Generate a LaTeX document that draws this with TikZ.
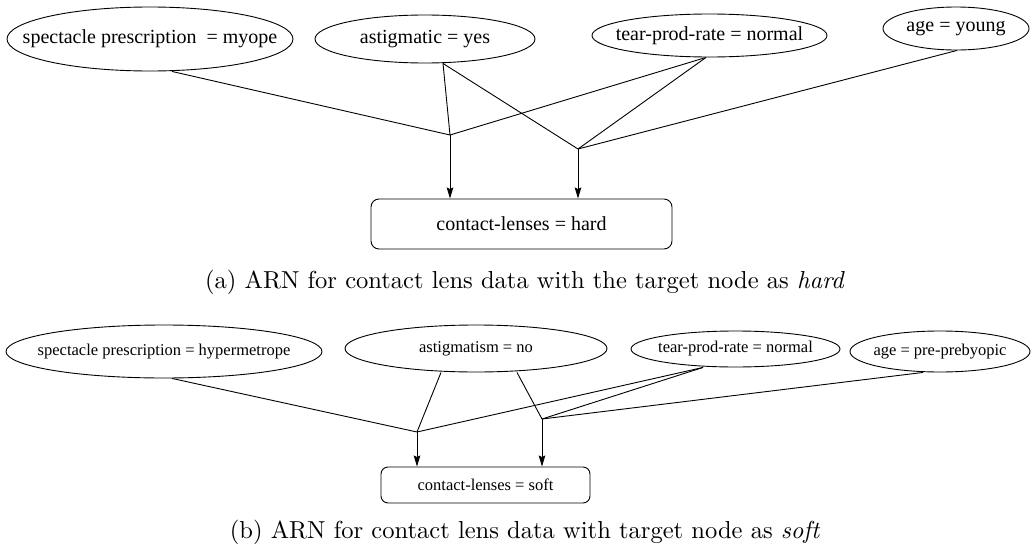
\documentclass[tikz,border=0pt]{standalone}
\usepackage{fontspec}
\usepackage{graphicx}
\newfontfamily\tms{Liberation Serif}
\usetikzlibrary{shapes.geometric,arrows.meta}

\begin{document}
\begin{tikzpicture}[x=1pt,y=-1pt,
  line width=0.9pt,
  oval/.style={draw, ellipse, inner sep=0pt},
  labela/.style={inner sep=0pt, font=\tms\fontsize{20}{24}\selectfont},
  labelb/.style={inner sep=0pt, font=\tms\fontsize{16.5}{20}\selectfont},
  targeta/.style={draw, rounded corners=8pt, inner sep=0pt, font=\tms\fontsize{20}{24}\selectfont},
  targetb/.style={draw, rounded corners=7pt, inner sep=0pt, font=\tms\fontsize{16.5}{20}\selectfont},
  arr/.style={-{Stealth[length=11pt,width=6.5pt,inset=1.5pt]}},
  caption/.style={inner sep=0pt}]
\useasboundingbox (0,0) rectangle (1031,546);

% ---------- (a) target node: hard ----------
\node[oval, minimum width=286, minimum height=64] (sa) at (150,39) {};
\node[labela] (sa-t) at (sa) {spectacle prescription\ \ = myope};
\node[oval, minimum width=220, minimum height=48] (aa) at (425,39) {};
\node[labela] (aa-t) at (aa) {astigmatic = yes};
\node[oval, minimum width=235, minimum height=43] (ta) at (709.5,35.5) {};
\node[labela] (ta-t) at (ta) {tear-prod-rate = normal};
\node[oval, minimum width=146, minimum height=43] (ga) at (956,28.5) {};
\node[labela] (ga-t) at (ga) {age = young};
\node[targeta, minimum width=301, minimum height=50] (ca) at (521.5,224) {contact-lenses = hard};

\coordinate (ja1) at (450,135);
\coordinate (ja2) at (578,149);

\draw ([xshift=22]sa.south) -- (ja1);
\draw ([xshift=18]aa.south) -- (ja1);
\draw ([xshift=18]aa.south) -- (ja2);
\draw ([xshift=-3.5]ta.south) -- (ja1);
\draw ([xshift=-3.5]ta.south) -- (ja2);
\draw ([xshift=1]ga.south) -- (ja2);
\draw[arr] (ja1) -- (ja1 |- ca.north);
\draw[arr] (ja2) -- (ja2 |- ca.north);

\node[caption] (capa) at (525,282) {\scalebox{2.455}{(a)\ ARN for contact lens data with the target node as \textit{hard}}};

% ---------- (b) target node: soft ----------
\node[oval, minimum width=316, minimum height=53] (sb) at (164,351.5) {};
\node[labelb] (sb-t) at (sb) {spectacle prescription = hypermetrope};
\node[oval, minimum width=262, minimum height=47] (ab) at (476,348.5) {};
\node[labelb] (ab-t) at (ab) {astigmatism = no};
\node[oval, minimum width=209, minimum height=36] (tb) at (735.5,349) {};
\node[labelb] (tb-t) at (tb) {tear-prod-rate = normal};
\node[oval, minimum width=180, minimum height=41] (gb) at (940,351.5) {};
\node[labelb] (gb-t) at (gb) {age = pre-prebyopic};
\node[targetb, minimum width=209, minimum height=36] (cb) at (485.5,485) {contact-lenses = soft};

\coordinate (jb1) at (417,432);
\coordinate (jb2) at (542,419);

\draw ([xshift=8]sb.south) -- (jb1);
\draw ([xshift=-35]ab.south) -- (jb1);
\draw ([xshift=41]ab.south) -- (jb2);
\draw ([xshift=-32.5]tb.south) -- (jb1);
\draw ([xshift=-32.5]tb.south) -- (jb2);
\draw ([xshift=-17]gb.south) -- (jb2);
\draw[arr] (jb1) -- (jb1 |- cb.north);
\draw[arr] (jb2) -- (jb2 |- cb.north);

\node[caption] (capb) at (525,532) {\scalebox{2.455}{(b)\ ARN for contact lens data with target node as \textit{soft}}};
\end{tikzpicture}
\end{document}
